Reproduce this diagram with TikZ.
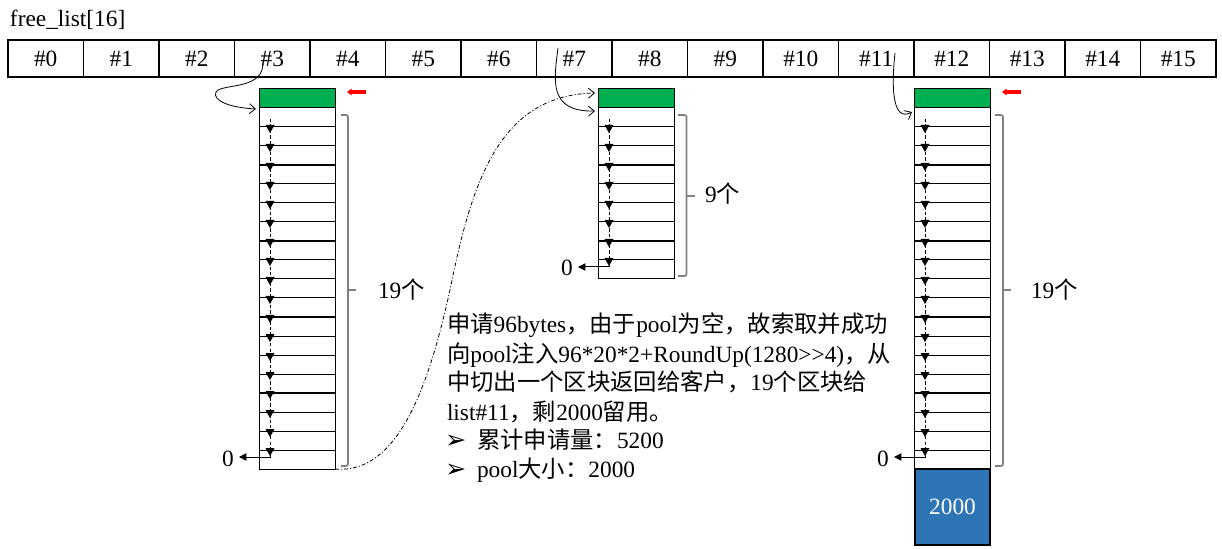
\documentclass[tikz,border=0pt]{standalone}
\usepackage{fontspec}
\setmainfont{Liberation Serif}
\newfontfamily\zhfont{Noto Sans CJK SC}
\newfontfamily\symfont{DejaVu Sans}
\usetikzlibrary{arrows.meta}
\newcommand\zh[1]{{\zhfont #1}}
\definecolor{hdgreen}{HTML}{00B050}
\definecolor{poolblue}{HTML}{2E75B6}
\definecolor{bracegray}{HTML}{808080}
% #1 name, #2 left x (px), #3 number of slots, #4 thick boundaries
\newcommand\drawstack[4]{%
  \node[headslot] (#1g) at ({#2+38},98.5) {};
  \foreach \i in {1,...,#3} {
    \node[slot] (#1c\i) at ({#2+38},{98.5+19*\i}) {};
  }
  \foreach \k in {#4} {
    \draw[line width=1.7pt] (#1c\k.south west) -- (#1c\k.south east);
  }
  \pgfmathsetmacro\lasttop{108+19*(#3-1)}
  \draw[line width=0.75pt, dash pattern=on 2.5pt off 1.6pt] ({#2+11},119) -- ({#2+11},\lasttop+4);
  \pgfmathtruncatemacro\nb{#3-1}
  \foreach \j in {1,...,\nb} {
    \fill ({#2+6.5},{108+19*\j-2}) -- ({#2+15.5},{108+19*\j-2}) -- ({#2+11},{108+19*\j+6}) -- cycle;
  }
  \node[txt, anchor=base] (#1z) at ({#2-31},\lasttop+16) {0};
  \draw[line width=0.75pt, -{Triangle[length=5.5pt,width=5.5pt]}] ({#2+11},\lasttop+5) -- ({#2+11},\lasttop+7) -- ({#2-20},\lasttop+7);
}
\begin{document}
\begin{tikzpicture}[x=0.75pt,y=-0.75pt,
  every node/.style={inner sep=0pt, outer sep=0pt},
  txt/.style={font=\fontsize{17.5}{21}\selectfont},
  arrcell/.style={draw, line width=0.9pt, minimum width=56.625pt, minimum height=27.75pt, txt},
  slot/.style={draw, line width=0.75pt, minimum width=57pt, minimum height=14.25pt},
  headslot/.style={slot, fill=hdgreen},
  link/.style={line width=0.6pt, -{Straight Barb[length=4.5pt,width=7.5pt]}},
  dashdot/.style={dash pattern=on 3pt off 1.5pt on 0.8pt off 1.5pt},
  bracket/.style={draw=bracegray, line width=1.3pt, rounded corners=1.5pt},
  redarrow/.style={draw=red, line width=2.8pt, -{Triangle[length=3.5pt,width=5pt]}}
]
\useasboundingbox (0,0) rectangle (1222,549);

% title
\node[txt, anchor=base west] (title) at (10,27) {free\_list[16]};

% array
\foreach \i in {0,...,15} {
  \node[arrcell] (a\i) at ({45.75+75.5*\i},58.5) {\#\i};
}

% stacks
\drawstack{sa}{259}{19}{3,7,11,15}
\drawstack{sb}{598}{9}{3,7}
\drawstack{sc}{914}{19}{3,7,11,15}

% pool block
\node[draw, line width=0.9pt, fill=poolblue, minimum width=56.25pt, minimum height=57pt,
      txt, text=white] (pool) at (952.5,507) {2000};

% red markers
\coordinate (ra1) at (366,92); \coordinate (ra2) at (347,92);
\draw[redarrow] (ra1) -- (ra2);
\coordinate (rc1) at (1021,92); \coordinate (rc2) at (1002,92);
\draw[redarrow] (rc1) -- (rc2);

% brackets
\draw[bracket] (341,115) -- (348,115) -- (348,466) -- (341,466);
\draw[draw=bracegray, line width=1.3pt] (348,290) -- (356,290);
\draw[bracket] (678,115) -- (686.5,115) -- (686.5,276) -- (678,276);
\draw[draw=bracegray, line width=1.3pt] (686.5,196) -- (695,196);
\draw[bracket] (995,115) -- (1003,115) -- (1003,466) -- (995,466);
\draw[draw=bracegray, line width=1.3pt] (1003,290) -- (1011,290);

\node[txt, anchor=base west] (na) at (378,298) {19\zh{个}};
\node[txt, anchor=base west] (nb) at (705,203) {9\zh{个}};
\node[txt, anchor=base west] (nc) at (1031,298) {19\zh{个}};

% links from array cells
\coordinate (p3) at (263,62); \coordinate (q3) at (256,109);
\draw[link] (p3) .. controls (264,88) and (230,84) .. (218,90) .. controls (210,96) and (220,107) .. (q3);
\coordinate (p7) at (558,48); \coordinate (q7) at (595,111);
\draw[link] (p7) .. controls (554,80) and (548,112) .. (q7);
\coordinate (p11) at (895,53); \coordinate (q11) at (912,112);
\draw[link] (p11) .. controls (891,90) and (893,122) .. (q11);

% dash-dot link from stack a to stack b
\coordinate (mid) at (450,290); \coordinate (qb) at (595,93);
\draw[link, dashdot] (sac19.south east) .. controls (400,475) and (430,380) .. (mid)
  .. controls (472,180) and (500,95) .. (qb);

% text block
\node[txt, anchor=base west] (t1) at (447,333) {\zh{申请}96bytes\zh{，由于}pool\zh{为空，故索取并成功}};
\node[txt, anchor=base west] (t2) at (447,362) {\zh{向}pool\zh{注入}96*20*2+RoundUp(1280>{}>4)\zh{，从}};
\node[txt, anchor=base west] (t3) at (447,390) {\zh{中切出一个区块返回给客户，}19\zh{个区块给}};
\node[txt, anchor=base west] (t4) at (447,420) {list\#11\zh{，剩}2000\zh{留用。}};
\node[anchor=base west, font=\fontsize{19}{21}\selectfont\symfont] (b1) at (445,448) {➢};
\node[txt, anchor=base west] (t5) at (477,448) {\zh{累计申请量：}5200};
\node[anchor=base west, font=\fontsize{19}{21}\selectfont\symfont] (b2) at (445,477) {➢};
\node[txt, anchor=base west] (t6) at (477,477) {pool\zh{大小：}2000};
\end{tikzpicture}
\end{document}
